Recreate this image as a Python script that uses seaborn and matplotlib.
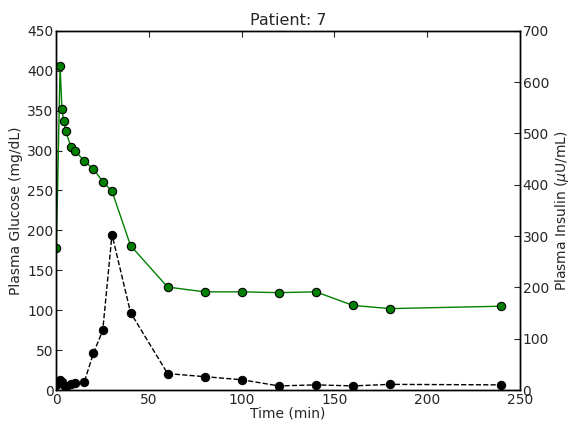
import matplotlib
matplotlib.use("Agg")
import matplotlib.pyplot as plt
import seaborn as sns
import pandas as pd

# sample times (min)
time_min = [0, 2, 3, 4, 5, 8, 10, 15, 20, 25, 30, 40, 60, 80, 100, 120, 140, 160, 180, 240]
# plasma glucose (mg/dL)
glucose = [178, 406, 352, 337, 324, 304, 300, 287, 277, 261, 249, 181, 129, 123, 123, 122, 123, 106, 102, 105]
# plasma insulin (uU/mL)
insulin = [10, 20, 16, 9, 5, 12, 14, 15, 72, 116, 303, 151, 32, 26, 20, 8, 10, 8, 11, 10]

df = pd.DataFrame({"time": time_min, "glucose": glucose, "insulin": insulin})

sns.set_style("white")
plt.rcParams.update({
    "font.family": ["DejaVu Sans"],
    "xtick.direction": "in",
    "ytick.direction": "in",
    "xtick.top": True,
    "axes.edgecolor": "black",
    "axes.linewidth": 1.0,
    "xtick.major.size": 4,
    "ytick.major.size": 4,
})

fig = plt.figure(figsize=(5.73, 4.23), dpi=100)
ax = fig.add_axes([0.0984, 0.078, 0.8088, 0.849])

sns.lineplot(data=df, x="time", y="glucose", ax=ax, color="green", linewidth=1.0,
             marker="o", markersize=6, markerfacecolor="green",
             markeredgecolor="black", markeredgewidth=0.8)
ax.set_xlim(0, 250)
ax.set_ylim(0, 450)
ax.set_xticks([0, 50, 100, 150, 200, 250])
ax.set_yticks(range(0, 451, 50))
ax.set_xlabel("Time (min)", fontsize=10, labelpad=0)
ax.set_ylabel("Plasma Glucose (mg/dL)", fontsize=10, labelpad=3)
ax.set_title("Patient: 7", fontsize=11.5, pad=4)
ax.tick_params(labelsize=10, right=False, pad=2)

ax2 = ax.twinx()
sns.lineplot(data=df, x="time", y="insulin", ax=ax2, color="black", linewidth=1.0,
             linestyle="--", dashes=(6, 4), marker="o", markersize=6,
             markerfacecolor="black", markeredgecolor="black")
ax2.set_ylim(0, 700)
ax2.set_yticks(range(0, 701, 100))
ax2.set_ylabel(r"Plasma Insulin ($\mu$U/mL)", fontsize=10, labelpad=3)
ax2.tick_params(labelsize=10, direction="in", pad=2)
for s in ax2.spines.values():
    s.set_color("black")

fig.savefig("out.png", dpi=100, facecolor="white")
